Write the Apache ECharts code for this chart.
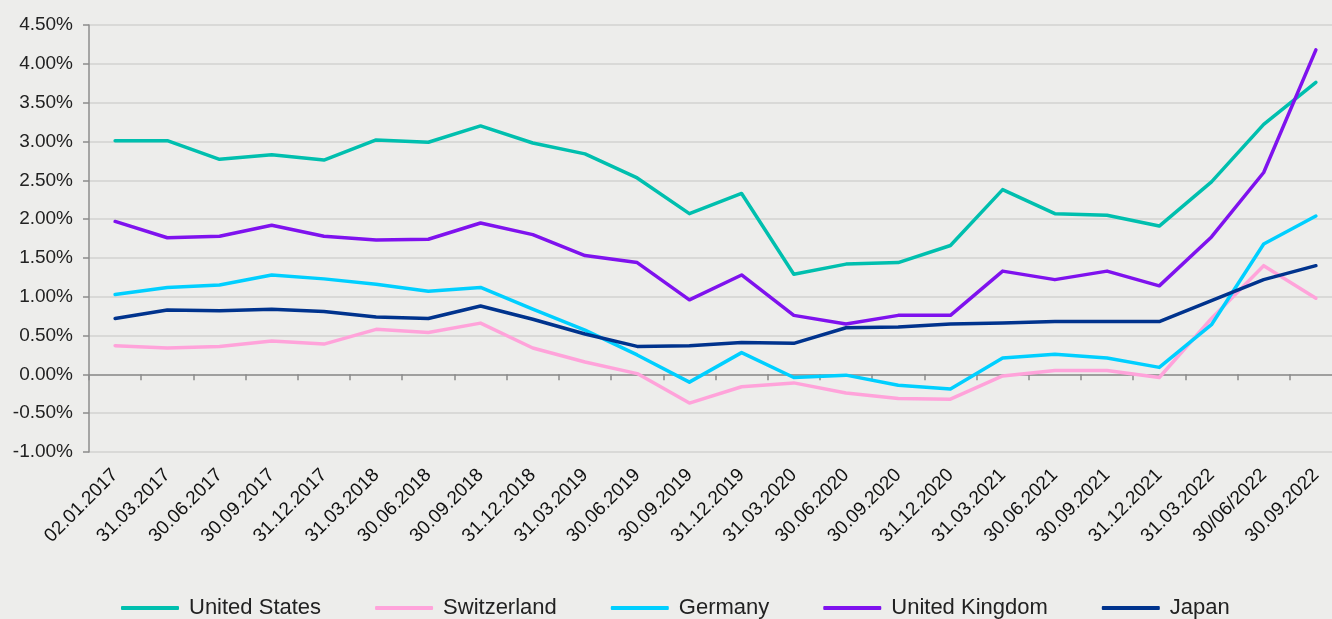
<!DOCTYPE html>
<html>
<head>
<meta charset="utf-8">
<script src="https://cdn.jsdelivr.net/npm/echarts@6/dist/echarts.min.js"></script>
<style>
html,body{margin:0;padding:0;background:#ededeb;overflow:hidden;width:1332px;height:619px;}
#chart{width:1342px;height:619px;}
</style>
</head>
<body>
<div id="chart"></div>
<script>
const categories = ['02.01.2017','31.03.2017','30.06.2017','30.09.2017','31.12.2017','31.03.2018','30.06.2018','30.09.2018','31.12.2018','31.03.2019','30.06.2019','30.09.2019','31.12.2019','31.03.2020','30.06.2020','30.09.2020','31.12.2020','31.03.2021','30.06.2021','30.09.2021','31.12.2021','31.03.2022','30/06/2022','30.09.2022'];
const unitedStates = [3.01,3.01,2.77,2.83,2.76,3.02,2.99,3.20,2.98,2.84,2.53,2.07,2.33,1.29,1.42,1.44,1.66,2.38,2.07,2.05,1.91,2.48,3.22,3.76];
const switzerland = [0.37,0.34,0.36,0.43,0.39,0.58,0.54,0.66,0.34,0.16,0.01,-0.37,-0.16,-0.11,-0.24,-0.31,-0.32,-0.02,0.05,0.05,-0.04,0.72,1.40,0.98];
const germany = [1.03,1.12,1.15,1.28,1.23,1.16,1.07,1.12,0.84,0.57,0.25,-0.10,0.28,-0.04,-0.01,-0.14,-0.19,0.21,0.26,0.21,0.09,0.64,1.68,2.04];
const unitedKingdom = [1.97,1.76,1.78,1.92,1.78,1.73,1.74,1.95,1.80,1.53,1.44,0.96,1.28,0.76,0.65,0.76,0.76,1.33,1.22,1.33,1.14,1.77,2.60,4.18];
const japan = [0.72,0.83,0.82,0.84,0.81,0.74,0.72,0.88,0.71,0.52,0.36,0.37,0.41,0.40,0.60,0.61,0.65,0.66,0.68,0.68,0.68,0.95,1.22,1.40];
const seriesNames = ['United States','Switzerland','Germany','United Kingdom','Japan'];
const seriesData = [unitedStates, switzerland, germany, unitedKingdom, japan];
const colors = ['#00bfae','#ffa3da','#00cfff','#7f12ee','#00338d'];

const chart = echarts.init(document.getElementById('chart'));
chart.setOption({
  animation: false,
  backgroundColor: '#ededeb',
  color: colors,
  grid: {left: 89, right: 0, top: 25, bottom: 167, containLabel: false},
  legend: {
    data: seriesNames,
    left: 121, top: 597, padding: 0,
    itemWidth: 58, itemHeight: 4, itemGap: 54,
    icon: 'roundRect',
    textStyle: {fontFamily: 'Liberation Sans', fontSize: 22, color: '#222', padding: [0,0,0,5]}
  },
  xAxis: [{
    type: 'category', data: categories, boundaryGap: true,
    axisLine: {show: false, onZero: false},
    axisTick: {show: false},
    axisLabel: {rotate: 45, interval: 0, margin: 20, fontFamily: 'Liberation Sans', fontSize: 19, color: '#111'},
    splitLine: {show: false}
  },{
    type: 'category', data: categories, boundaryGap: true, position: 'bottom',
    axisLine: {show: true, onZero: true, lineStyle: {color: '#8c8c8c', width: 1.5}},
    axisTick: {show: true, inside: false, length: 6, interval: 0, lineStyle: {color: '#8c8c8c', width: 1.5}},
    axisLabel: {show: false},
    splitLine: {show: false}
  }],
  yAxis: {
    type: 'value', min: -1, max: 4.5, interval: 0.5,
    axisLine: {show: true, lineStyle: {color: '#8c8c8c', width: 1.5}},
    axisTick: {show: true, length: 6, lineStyle: {color: '#8c8c8c', width: 1.5}},
    axisLabel: {margin: 16, fontFamily: 'Liberation Sans', fontSize: 19, color: '#222', formatter: v => v.toFixed(2) + '%'},
    splitLine: {show: true, lineStyle: {color: '#d9d9d7', width: 2}}
  },
  series: seriesNames.map((n, i) => ({
    name: n, type: 'line', data: seriesData[i], xAxisIndex: 0,
    symbol: 'none', lineStyle: {width: 3.5, color: colors[i], cap: 'round', join: 'round'},
    itemStyle: {color: colors[i]}
  }))
});
</script>
</body>
</html>
